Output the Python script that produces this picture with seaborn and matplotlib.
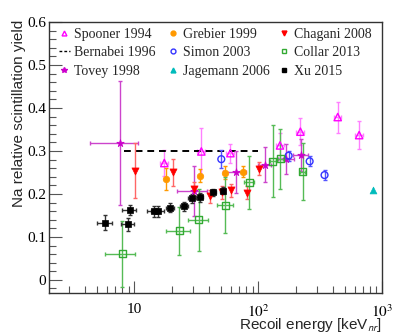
import matplotlib
matplotlib.use("Agg")
import matplotlib.pyplot as plt
import matplotlib.ticker as mticker
from matplotlib.lines import Line2D
import numpy as np
import pandas as pd
import seaborn as sns


# Spooner 1994
spooner_e = [17.5, 34.8, 59.7, 150, 219, 438, 652]
spooner_y = [0.272, 0.299, 0.295, 0.313, 0.345, 0.379, 0.337]
spooner_dy = [0.030, 0.054, 0.022, 0.029, 0.032, 0.036, 0.032]

# Bernabei 1996 (constant value)
bernabei_e = [8.3, 100]
bernabei_y = [0.30, 0.30]

# Tovey 1998
tovey_e = [7.7, 30.3, 66.4, 113, 168, 222]
tovey_y = [0.319, 0.206, 0.252, 0.268, 0.281, 0.291]
tovey_dy = [0.145, 0.058, 0.049, 0.041, 0.035, 0.037]
tovey_dx_lo = [3.3, 8.2, 14.8, 13.4, 23, 30]
tovey_dx_hi = [3.1, 8.5, 13.7, 15, 25, 30]

# Grebier 1999
grebier_e = [17.9, 33.9, 53.7, 75.4]
grebier_y = [0.235, 0.242, 0.249, 0.252]
grebier_dy = [0.025, 0.015, 0.015, 0.012]

# Simon 2003
simon_e = [50.4, 176, 260, 343]
simon_y = [0.281, 0.289, 0.276, 0.244]
simon_dy = [0.021, 0.012, 0.012, 0.012]

# Jagemann 2006
jagemann_e = [849]
jagemann_y = [0.210]

# Chagani 2008
chagani_e = [10.2, 20.4, 30.3, 40.6, 50.7, 60.8, 80.8, 101]
chagani_y = [0.254, 0.250, 0.212, 0.195, 0.204, 0.209, 0.203, 0.259]
chagani_dy = [0.064, 0.032, 0.017, 0.015, 0.015, 0.015, 0.015, 0.015]

# Collar 2013
collar_e = [8.0, 23.1, 33.2, 54.3, 84.9, 131, 151, 228]
collar_y = [0.061, 0.114, 0.140, 0.174, 0.227, 0.276, 0.282, 0.252]
collar_dy = [0.077, 0.056, 0.072, 0.066, 0.061, 0.084, 0.070, 0.066]
collar_dx = [2.2, 5.0, 6.0, 8.0, 8.0, 7.0, 8.0, 12.0]

# Xu 2015
xu_e = [5.8, 8.9, 9.2, 14.5, 15.5, 19.5, 25.4, 29.3, 33.7, 43.3, 51.7]
xu_y = [0.133, 0.129, 0.162, 0.160, 0.160, 0.168, 0.171, 0.190, 0.192, 0.204, 0.208]
xu_dy = [0.017, 0.015, 0.012, 0.013, 0.013, 0.010, 0.010, 0.010, 0.010, 0.008, 0.008]
xu_dx = [0.8, 1.1, 1.2, 1.8, 1.8, 1.5, 1.8, 2.0, 2.2, 2.5, 2.8]

labels = ["Spooner 1994", "Bernabei 1996", "Tovey 1998",
          "Grebier 1999", "Simon 2003", "Jagemann 2006",
          "Chagani 2008", "Collar 2013", "Xu 2015"]

SERIF = ["Liberation Serif", "DejaVu Serif"]
SANS = ["Liberation Sans", "DejaVu Sans"]

sns.set_style("ticks")
plt.rcParams["font.family"] = SERIF
plt.rcParams["mathtext.fontset"] = "stix"

fig = plt.figure(figsize=(4.07, 3.35), dpi=100)
ax = fig.add_axes([0.120, 0.126, 0.819, 0.808])


def draw_series(e, y, marker, color, err_color, size, filled=True,
                xerr=None, yerr=None, lw=1.0):
    if xerr is not None or yerr is not None:
        ax.errorbar(e, y, xerr=xerr, yerr=yerr, fmt="none", ecolor=err_color,
                    elinewidth=lw, capsize=1.2, capthick=lw, zorder=2)
    df = pd.DataFrame({"E": e, "Y": y})
    if filled:
        sns.scatterplot(data=df, x="E", y="Y", marker=marker, s=size,
                        color=color, edgecolor=color, linewidth=0.5,
                        ax=ax, zorder=3)
    else:
        sns.scatterplot(data=df, x="E", y="Y", marker=marker, s=size,
                        facecolors="none", edgecolors=color, linewidth=1.0,
                        ax=ax, zorder=3)


draw_series(spooner_e, spooner_y, "^", "#ff00ff", "#ff80ff", 28, filled=False,
            xerr=[v * 0.07 for v in spooner_e], yerr=spooner_dy)
ax.plot(bernabei_e, bernabei_y, color="black", lw=1.4, ls=(0, (3.5, 2.5)), zorder=2)
draw_series(tovey_e, tovey_y, "*", "#cc00cc", "#cc44cc", 32,
            xerr=[tovey_dx_lo, tovey_dx_hi], yerr=tovey_dy)
draw_series(grebier_e, grebier_y, "o", "#ff9900", "#ff9900", 22, yerr=grebier_dy)
draw_series(simon_e, simon_y, "o", "#3333ff", "#5555ff", 24, filled=False,
            yerr=simon_dy)
draw_series(jagemann_e, jagemann_y, "^", "#00bbbb", "#00bbbb", 24)
draw_series(chagani_e, chagani_y, "v", "#ff0000", "#ff6666", 26, yerr=chagani_dy)
draw_series(collar_e, collar_y, "s", "#33aa33", "#55bb55", 26, filled=False,
            xerr=collar_dx, yerr=collar_dy)
draw_series(xu_e, xu_y, "s", "black", "#333333", 18, xerr=xu_dx, yerr=xu_dy)

ax.set_xscale("log")
ax.set_xlim(2.05, 1000)
ax.set_ylim(-0.03, 0.6)

ax.xaxis.set_major_locator(mticker.FixedLocator([10, 100, 1000]))
ax.xaxis.set_major_formatter(mticker.FixedFormatter(["10", "$10^{2}$", "$10^{3}$"]))
ax.xaxis.set_minor_locator(mticker.LogLocator(base=10, subs=np.arange(2, 10)))
ax.xaxis.set_minor_formatter(mticker.NullFormatter())
ax.yaxis.set_major_locator(mticker.MultipleLocator(0.1))
ax.yaxis.set_minor_locator(mticker.MultipleLocator(0.02))
ax.yaxis.set_major_formatter(mticker.FuncFormatter(lambda v, p: f"{v:g}"))

ax.tick_params(which="both", direction="in", color="#555555", labelsize=11,
               labelcolor="black")
ax.tick_params(axis="x", which="major", length=9, width=0.8, pad=7.5)
ax.tick_params(axis="x", which="minor", length=5, width=0.8)
ax.tick_params(axis="y", which="major", length=9, width=0.8, pad=2)
ax.tick_params(axis="y", which="minor", length=5, width=0.8)
for lab in ax.get_xticklabels() + ax.get_yticklabels():
    lab.set_fontfamily(SERIF)
for sp in ax.spines.values():
    sp.set_color("#333333")
    sp.set_linewidth(1.0)

ax.set_xlabel(r"Recoil energy [keV$_{\mathsf{nr}}$]", loc="right",
              fontsize=11, family=SANS, labelpad=-2.5)
ax.set_ylabel("Na relative scintillation yield", loc="top", fontsize=11,
              family=SANS)
ax.yaxis.set_label_coords(-0.07, 1.01)

handles = [
    Line2D([], [], ls="none", marker="^", mfc="none", mec="#ff00ff", ms=3.5),
    Line2D([], [], ls="--", color="black", lw=1.0, dashes=(2, 1.5)),
    Line2D([], [], ls="none", marker="*", color="#cc00cc", ms=4),
    Line2D([], [], ls="none", marker="o", color="#ff9900", ms=3.5),
    Line2D([], [], ls="none", marker="o", mfc="none", mec="#3333ff", ms=3.5),
    Line2D([], [], ls="none", marker="^", color="#00bbbb", ms=3.5),
    Line2D([], [], ls="none", marker="v", color="#ff0000", ms=3.5),
    Line2D([], [], ls="none", marker="s", mfc="none", mec="#33aa33", ms=3.5),
    Line2D([], [], ls="none", marker="s", color="black", ms=3.5),
]

# one legend per column so each column sits where the reference has it
col_x = [0.029, 0.356, 0.689]
for i, x0 in enumerate(col_x):
    leg = ax.legend(handles[3 * i:3 * i + 3], labels[3 * i:3 * i + 3],
                    loc="upper left", bbox_to_anchor=(x0, 0.98),
                    frameon=False, prop={"family": SERIF, "size": 10},
                    handlelength=0.8, handletextpad=0.35, labelspacing=0.42,
                    borderpad=0, borderaxespad=0)
    if i < len(col_x) - 1:
        ax.add_artist(leg)

fig.savefig("out.png", dpi=100)
